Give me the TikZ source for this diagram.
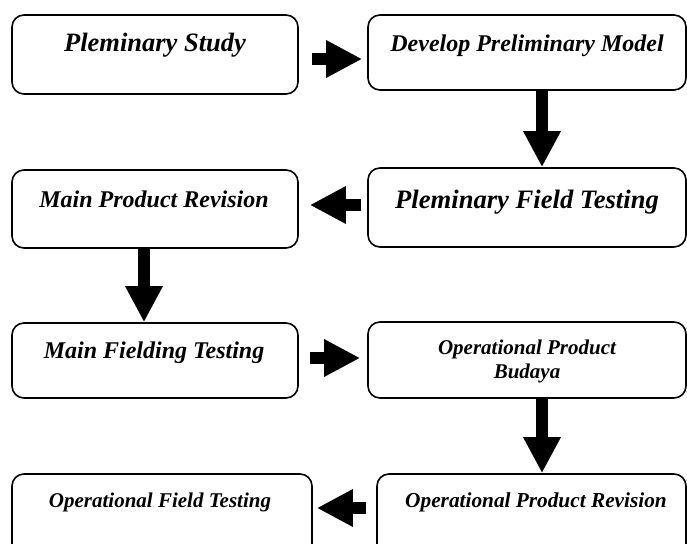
\documentclass[tikz,border=0pt]{standalone}
\usepackage{fontspec}
\setmainfont{Liberation Serif}
\usetikzlibrary{arrows.meta}
\tikzset{
  box/.style={draw=black, line width=1.6pt, rounded corners=12pt, inner sep=0pt},
  lbl/.style={anchor=base, inner sep=0pt, font=\bfseries\itshape},
  blockarrow/.style={line width=12pt, -{Triangle[width=35pt,length=36pt]}}
}
\newcommand{\boxat}[5]{% name, x1, y1, x2, y2
  \node[box, minimum width={(#4-#2)*1pt}, minimum height={(#5-#3)*1pt}] (#1) at ({(#2+#4)/2},{(#3+#5)/2}) {};}
\begin{document}
\begin{tikzpicture}[x=1pt, y=-1pt]
\clip (0,0) rectangle (687,543);
\fill[white] (0,0) rectangle (687,543);
% boxes
\boxat{b1}{12}{15}{298}{94}
\boxat{b2}{368}{15}{686}{90}
\boxat{b3}{12}{170}{298}{248}
\boxat{b4}{368}{168}{686}{247}
\boxat{b5}{12}{323}{298}{398}
\boxat{b6}{368}{322}{686}{398}
\boxat{b7}{12}{474}{312}{570}
\boxat{b8}{377}{474}{686}{570}
% labels
\node[lbl, font=\fontsize{26.5}{30}\selectfont\bfseries\itshape] (t1) at (155,52) {Pleminary Study};
\node[lbl, font=\fontsize{24}{28}\selectfont\bfseries\itshape] (t2) at (527,52) {Develop Preliminary Model};
\node[lbl, font=\fontsize{24}{28}\selectfont\bfseries\itshape] (t3) at (154,207) {Main Product Revision};
\node[lbl, font=\fontsize{26.6}{30}\selectfont\bfseries\itshape] (t4) at (527,208) {Pleminary Field Testing};
\node[lbl, font=\fontsize{24}{28}\selectfont\bfseries\itshape] (t5) at (154,358) {Main Fielding Testing};
\node[lbl, font=\fontsize{21}{24}\selectfont\bfseries\itshape] (t6a) at (527,354) {Operational Product};
\node[lbl, font=\fontsize{21}{24}\selectfont\bfseries\itshape] (t6b) at (527,378) {Budaya};
\node[lbl, font=\fontsize{21}{24}\selectfont\bfseries\itshape] (t7) at (160,507) {Operational Field Testing};
\node[lbl, font=\fontsize{21.3}{24}\selectfont\bfseries\itshape] (t8) at (536,507) {Operational Product Revision};
% block arrows
\draw[blockarrow, shorten <=13pt, shorten >=5pt] (b1.east |- 0,59) -- (b2.west |- 0,59);
\draw[blockarrow] (b2.south -| 542,0) -- (b4.north -| 542,0);
\draw[blockarrow, shorten <=6pt, shorten >=11pt] (b4.west |- 0,205) -- (b3.east |- 0,205);
\draw[blockarrow] (b3.south -| 144,0) -- (b5.north -| 144,0);
\draw[blockarrow, shorten <=11pt, shorten >=7pt] (b5.east |- 0,358) -- (b6.west |- 0,358);
\draw[blockarrow] (b6.south -| 542,0) -- (b8.north -| 542,0);
\draw[blockarrow, shorten <=10pt, shorten >=4pt] (b8.west |- 0,508) -- (b7.east |- 0,508);
\end{tikzpicture}
\end{document}
